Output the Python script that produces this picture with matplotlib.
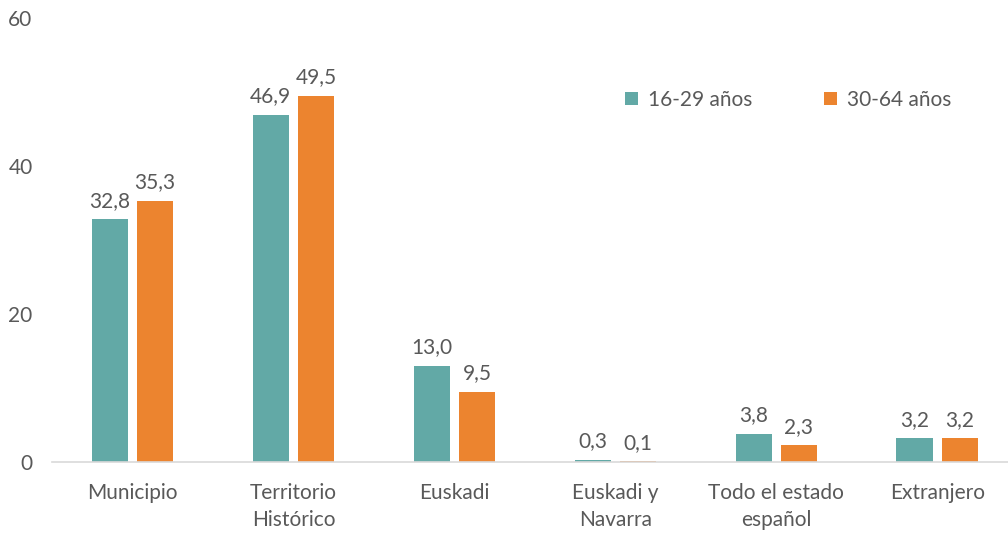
import matplotlib.pyplot as plt
import numpy as np

categories = ["Municipio", "Territorio\nHistórico", "Euskadi", "Euskadi y\nNavarra",
              "Todo el estado\nespañol", "Extranjero"]
jovenes = [32.8, 46.9, 13.0, 0.3, 3.8, 3.2]
adultos = [35.3, 49.5, 9.5, 0.1, 2.3, 3.2]
labels_series = ["16-29 años", "30-64 años"]

teal = "#62A9A6"
orange = "#EC842F"
gray = "#595959"
fs = 15

plt.rcParams['font.family'] = ['Lato', 'DejaVu Sans']

fig = plt.figure(figsize=(10.08, 5.35), dpi=100)
ax = fig.add_axes([0.0516, 0.1364, 0.9484, 0.83])

x = np.arange(len(categories))
w = 0.224
off = 0.141
b1 = ax.bar(x - off, jovenes, w, color=teal, label=labels_series[0])
b2 = ax.bar(x + off, adultos, w, color=orange, label=labels_series[1])

for bars, vals in ((b1, jovenes), (b2, adultos)):
    for rect, v in zip(bars, vals):
        ax.annotate(f"{v:.1f}".replace(".", ","),
                    (rect.get_x() + rect.get_width() / 2, v),
                    xytext=(0, 6), textcoords="offset points",
                    ha="center", va="bottom", fontsize=fs, color=gray)

ax.set_xlim(-0.5, 5.44)
ax.set_ylim(0, 60)
ax.set_yticks([0, 20, 40, 60])
ax.set_xticks(x)
ax.set_xticklabels(categories, linespacing=1.45)
ax.tick_params(axis="both", length=0, labelsize=fs, labelcolor=gray)
ax.tick_params(axis="x", pad=15)
ax.tick_params(axis="y", pad=14)

for s in ["top", "right", "left"]:
    ax.spines[s].set_visible(False)
ax.spines["bottom"].set_color("#D9D9D9")
ax.spines["bottom"].set_linewidth(1.2)

ax.legend(loc="center left", bbox_to_anchor=(0.58, 0.815), ncol=2, frameon=False,
          fontsize=fs, labelcolor=gray, handlelength=0.6, handleheight=0.6,
          handletextpad=0.5, columnspacing=3.45)

fig.savefig("out.png", dpi=100)
